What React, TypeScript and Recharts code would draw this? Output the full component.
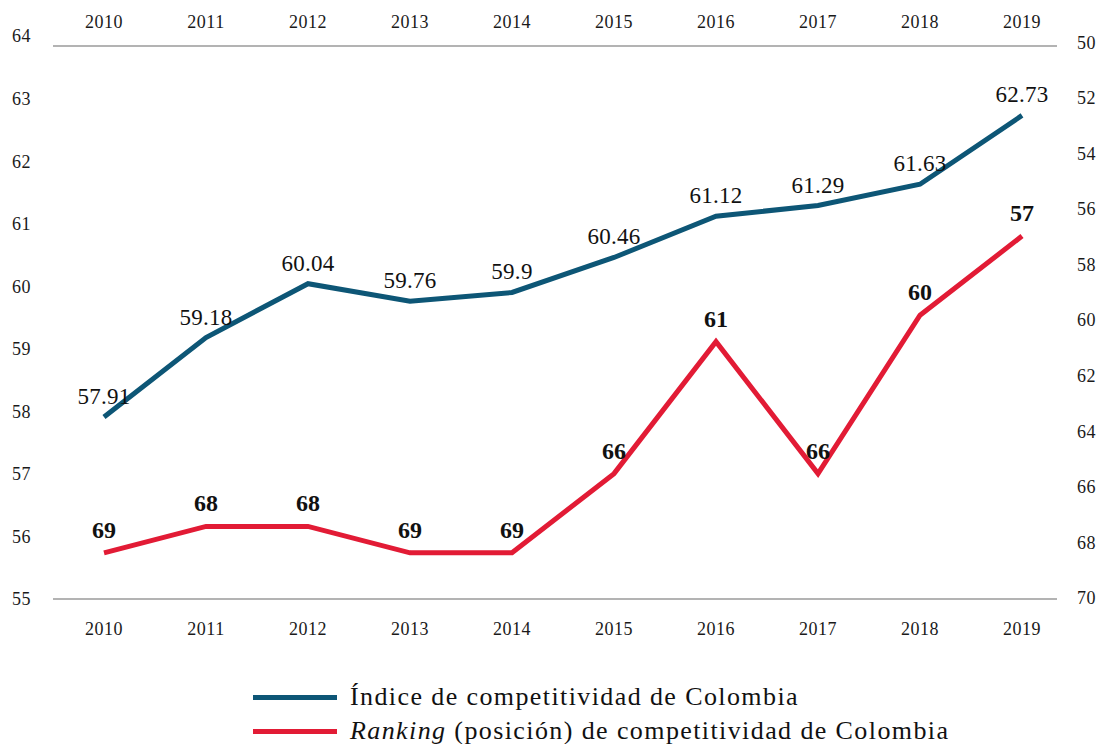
import React from 'react';
import { LineChart, Line, XAxis, YAxis, LabelList } from 'recharts';

const years = ['2010', '2011', '2012', '2013', '2014', '2015', '2016', '2017', '2018', '2019'];
const indice = [57.91, 59.18, 60.04, 59.76, 59.9, 60.46, 61.12, 61.29, 61.63, 62.73];
const ranking = [69, 68, 68, 69, 69, 66, 61, 66, 60, 57];
const leftTicks = [55, 56, 57, 58, 59, 60, 61, 62, 63, 64];
const rightTicks = [50, 52, 54, 56, 58, 60, 62, 64, 66, 68, 70];

const BLUE = '#0D5676';
const RED = '#E21B35';
const FONT = '"Liberation Serif", "Times New Roman", serif';

const chartData = years.map((year, i) => ({
  year,
  indice: indice[i],
  ranking: ranking[i],
}));

const tickStyle = { fontSize: 18, fill: '#1a1a1a', fontFamily: FONT, letterSpacing: 0.5 };

const App: React.FC = () => {
  return (
    <div style={{ position: 'absolute', top: 0, left: 0, width: 1107, height: 744, background: '#fff', fontFamily: FONT }}>
      <LineChart width={1107} height={660} data={chartData} margin={{ top: 0, right: 0, bottom: 0, left: 0 }}>
        <XAxis
          xAxisId="top"
          dataKey="year"
          orientation="top"
          height={36}
          padding={{ left: 51, right: 35 }}
          tickLine={false}
          tickSize={0}
          tickMargin={8}
          tick={tickStyle}
          axisLine={{ stroke: '#b3b3b3', strokeWidth: 2, transform: 'translate(0,10)' }}
          interval={0}
        />
        <XAxis
          xAxisId="bottom"
          dataKey="year"
          height={61}
          padding={{ left: 51, right: 35 }}
          tickLine={false}
          tickSize={0}
          tickMargin={23}
          tick={tickStyle}
          axisLine={{ stroke: '#b3b3b3', strokeWidth: 2 }}
          interval={0}
        />
        <YAxis
          yAxisId="left"
          width={53}
          domain={[55, 64]}
          ticks={leftTicks}
          axisLine={false}
          tickLine={false}
          tickSize={0}
          tickMargin={22}
          tick={tickStyle}
        />
        <YAxis
          yAxisId="right"
          orientation="right"
          width={50}
          domain={[49.78, 70.04]}
          ticks={rightTicks}
          reversed
          allowDataOverflow
          axisLine={false}
          tickLine={false}
          tickSize={0}
          tickMargin={20}
          tick={{ ...tickStyle, textAnchor: 'start' }}
        />
        <YAxis yAxisId="rank" orientation="right" hide width={0} domain={[49.42, 70.75]} reversed allowDataOverflow />
        <Line
          xAxisId="bottom"
          yAxisId="left"
          dataKey="indice"
          stroke={BLUE}
          strokeWidth={5}
          dot={false}
          activeDot={false}
          isAnimationActive={false}
        >
          <LabelList dataKey="indice" position="top" offset={13} style={{ fontSize: 23, fill: '#111', fontFamily: FONT, letterSpacing: 0.3 }} />
        </Line>
        <Line
          xAxisId="bottom"
          yAxisId="rank"
          dataKey="ranking"
          stroke={RED}
          strokeWidth={5}
          dot={false}
          activeDot={false}
          isAnimationActive={false}
        >
          <LabelList dataKey="ranking" position="top" offset={15} style={{ fontSize: 24, fontWeight: 'bold', fill: '#111', fontFamily: FONT }} />
        </Line>
      </LineChart>
      <div style={{ position: 'absolute', left: 253, top: 680, fontSize: 26, letterSpacing: 1.4, color: '#111', lineHeight: '34px' }}>
        <div style={{ display: 'flex', alignItems: 'center' }}>
          <span style={{ display: 'inline-block', width: 84, height: 5, background: BLUE, marginRight: 13 }} />
          <span>Índice de competitividad de Colombia</span>
        </div>
        <div style={{ display: 'flex', alignItems: 'center' }}>
          <span style={{ display: 'inline-block', width: 84, height: 5, background: RED, marginRight: 13 }} />
          <span><i>Ranking</i> (posición) de competitividad de Colombia</span>
        </div>
      </div>
    </div>
  );
};

export default App;
